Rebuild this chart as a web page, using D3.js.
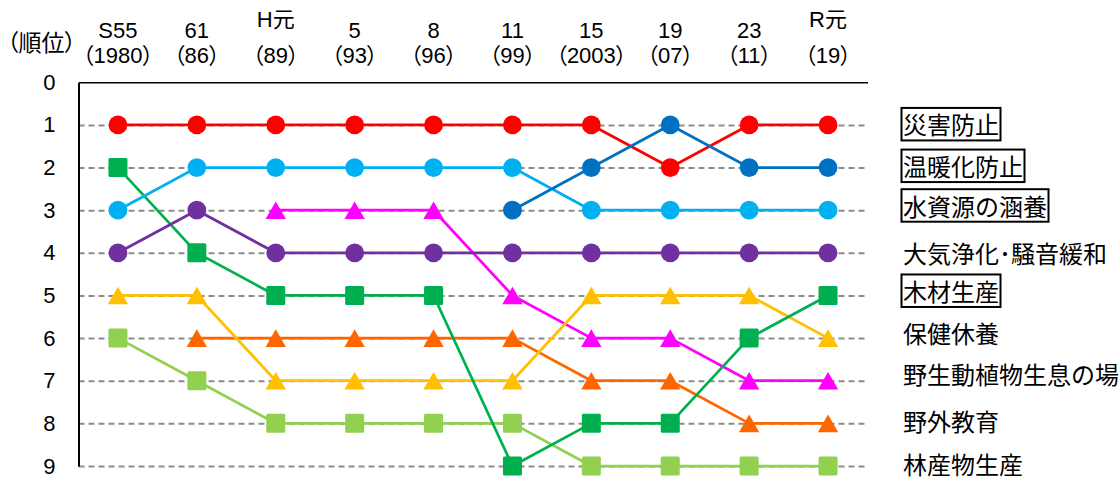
<!DOCTYPE html>
<html>
<head>
<meta charset="utf-8">
<script src="https://cdn.jsdelivr.net/npm/d3@7"></script>
<style>
  body { margin: 0; background: #fff; }
  svg { display: block; }
  text { font-family: "Liberation Sans", Arial, "Noto Sans CJK JP", sans-serif; fill: #000; }
  .jp { font-family: "Noto Sans CJK JP", sans-serif; }
  .tight { font-feature-settings: "palt" 1; }
</style>
</head>
<body>
<svg id="chart" width="1120" height="477"></svg>
<script>
// Survey years (Japanese era) and their Western-year equivalents
const periods = ["S55", "61", "H元", "5", "8", "11", "15", "19", "23", "R元"];
const years = ["（1980）", "（86）", "（89）", "（93）", "（96）", "（99）", "（2003）", "（07）", "（11）", "（19）"];
const rankTicks = [0, 1, 2, 3, 4, 5, 6, 7, 8, 9];

// Forest functions expected by the public, ranked per survey (null = not asked)
const functionNames = ["災害防止", "温暖化防止", "水資源の涵養", "大気浄化･騒音緩和", "木材生産",
                       "保健休養", "野生動植物生息の場", "野外教育", "林産物生産"];
const rankDisaster   = [1, 1, 1, 1, 1, 1, 1, 2, 1, 1];
const rankWarming    = [null, null, null, null, null, 3, 2, 1, 2, 2];
const rankWater      = [3, 2, 2, 2, 2, 2, 3, 3, 3, 3];
const rankAir        = [4, 3, 4, 4, 4, 4, 4, 4, 4, 4];
const rankTimber     = [2, 4, 5, 5, 5, 9, 8, 8, 6, 5];
const rankRecreation = [5, 5, 7, 7, 7, 7, 5, 5, 5, 6];
const rankWildlife   = [null, null, 3, 3, 3, 5, 6, 6, 7, 7];
const rankEducation  = [null, 6, 6, 6, 6, 6, 7, 7, 8, 8];
const rankProducts   = [6, 7, 8, 8, 8, 8, 9, 9, 9, 9];
const highlighted = ["災害防止", "温暖化防止", "水資源の涵養", "木材生産"];

const rankSeries = [rankDisaster, rankWarming, rankWater, rankAir, rankTimber,
                    rankRecreation, rankWildlife, rankEducation, rankProducts];

// Appearance of each series
const seriesColors = ["#ff0000", "#0070c0", "#00b0f0", "#7030a0", "#00b050",
                      "#ffc000", "#ff00ff", "#ff6600", "#92d050"];
const seriesShapes = ["circle", "circle", "circle", "circle", "square",
                      "triangle", "triangle", "triangle", "square"];
const drawOrder = [8, 7, 6, 5, 4, 3, 2, 0, 1];
const labelNudge = [-1, -2, -5, 0, -5, -6, -7, -3, -3];

const svg = d3.select("#chart");
const plot = { left: 78.5, right: 867.5, top: 82.3, bottom: 466 };

const x = d3.scaleBand().domain(periods).range([plot.left, plot.right]).padding(0);
const cx = p => x(p) + x.bandwidth() / 2;
const y = d3.scaleLinear().domain([0, 9]).range([plot.top, plot.bottom]);

// Dashed rank gridlines
svg.append("g")
  .attr("transform", `translate(${plot.left},0)`)
  .call(d3.axisRight(y).tickValues(rankTicks.slice(1)).tickSize(plot.right - plot.left).tickFormat(""))
  .call(g => g.select(".domain").remove())
  .call(g => g.selectAll(".tick line")
    .attr("stroke", "#8c8c8c").attr("stroke-width", 2).attr("stroke-dasharray", "6,4"));

// Top axis line with two-line period labels
const topAxis = svg.append("g")
  .attr("transform", `translate(0,${plot.top})`)
  .call(d3.axisTop(x).tickSize(0).tickSizeOuter(0))
  .call(g => g.select(".domain").attr("stroke", "#000").attr("stroke-width", 1.5))
  .call(g => g.selectAll(".tick text").remove());

topAxis.selectAll(".tick").each(function(p, i) {
  const t = d3.select(this);
  const eraStart = p.endsWith("元");
  t.append("text")
    .attr("y", (eraStart ? 27 : 38) - plot.top)
    .attr("text-anchor", "middle")
    .style("font-size", "22px")
    .text(p);
  t.append("text")
    .attr("class", "tight")
    .attr("y", 63 - plot.top)
    .attr("text-anchor", "middle")
    .style("font-size", "22px")
    .text(years[i]);
});

// Left rank axis
svg.append("g")
  .attr("transform", `translate(${plot.left},0)`)
  .call(d3.axisLeft(y).tickValues(rankTicks).tickSize(0).tickSizeOuter(0).tickPadding(23))
  .call(g => g.select(".domain").attr("stroke", "#000").attr("stroke-width", 2))
  .call(g => g.selectAll(".tick text").style("font-size", "22px").attr("font-family", null));

svg.append("text")
  .attr("x", 41.5).attr("y", 51)
  .attr("text-anchor", "middle")
  .attr("class", "jp tight")
  .style("font-size", "23px")
  .text("（順位）");

// Ranking lines and markers
const line = d3.line()
  .defined(d => d.rank != null)
  .x(d => cx(d.period))
  .y(d => y(d.rank));

const triangle = "M0,-8.8L10.2,8.8L-10.2,8.8Z";

drawOrder.forEach(si => {
  const pts = periods.map((p, i) => ({ period: p, rank: rankSeries[si][i] }));
  const g = svg.append("g");
  const color = seriesColors[si];
  g.append("path")
    .datum(pts)
    .attr("d", line)
    .attr("fill", "none")
    .attr("stroke", color)
    .attr("stroke-width", 2.75)
    .attr("stroke-linejoin", "round");

  const valid = pts.filter(d => d.rank != null);
  const shape = seriesShapes[si];
  if (shape === "circle") {
    g.selectAll("circle").data(valid).join("circle")
      .attr("cx", d => cx(d.period)).attr("cy", d => y(d.rank))
      .attr("r", 9.4).attr("fill", color);
  } else if (shape === "square") {
    g.selectAll("rect").data(valid).join("rect")
      .attr("x", d => cx(d.period) - 9.5).attr("y", d => y(d.rank) - 9.5)
      .attr("width", 19).attr("height", 19).attr("rx", 1.5)
      .attr("fill", color);
  } else {
    g.selectAll("path.mk").data(valid).join("path")
      .attr("class", "mk")
      .attr("d", triangle)
      .attr("transform", d => `translate(${cx(d.period)},${y(d.rank)})`)
      .attr("fill", color);
  }
});

// Function names placed at each series' latest rank
const labelX = 903;
functionNames.forEach((name, si) => {
  const series = rankSeries[si];
  const last = series[series.length - 1];
  const ly = y(last) + labelNudge[si];
  const txt = svg.append("text")
    .attr("class", "jp")
    .attr("x", labelX).attr("y", ly)
    .attr("dominant-baseline", "central")
    .style("font-size", "24px")
    .text(name);
  if (highlighted.includes(name)) {
    const w = txt.node().getComputedTextLength();
    svg.append("rect")
      .attr("x", labelX - 1.5).attr("y", ly - 16)
      .attr("width", w + 3).attr("height", 32.5)
      .attr("fill", "none").attr("stroke", "#000").attr("stroke-width", 2);
  }
});
</script>
</body>
</html>
